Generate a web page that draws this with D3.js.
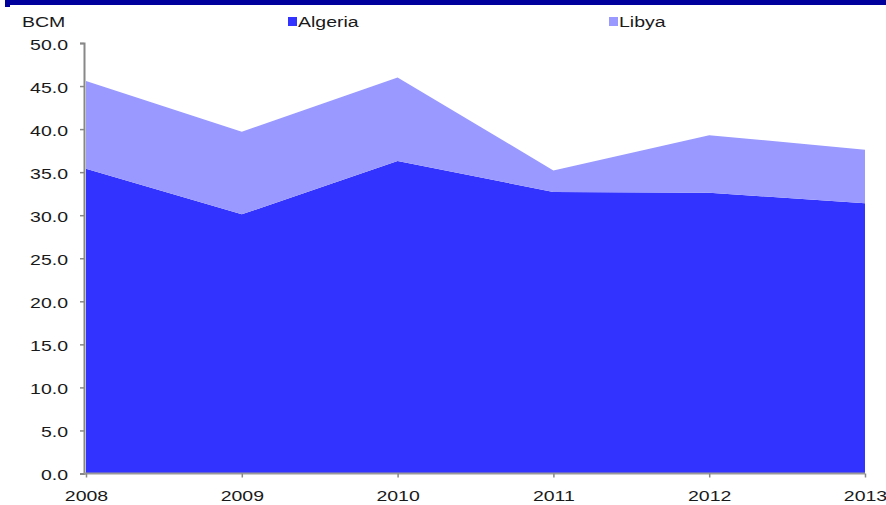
<!DOCTYPE html>
<html>
<head>
<meta charset="utf-8">
<script src="https://cdn.jsdelivr.net/npm/d3@7"></script>
<style>
  html, body { margin: 0; padding: 0; background: #ffffff; }
  svg { display: block; }
  text { font-family: "Liberation Sans", Arial, sans-serif; fill: #1a1a1a; }
</style>
</head>
<body>
<svg id="chart" width="886" height="505"></svg>
<script>
// Gas exports, billion cubic metres
const years = ["2008", "2009", "2010", "2011", "2012", "2013"];
const algeria = [35.4, 30.1, 36.3, 32.7, 32.6, 31.4];
const libya = [10.2, 9.6, 9.7, 2.5, 6.7, 6.2];
const seriesNames = ["Algeria", "Libya"];
const seriesColors = ["#3333ff", "#9999ff"];
const yTicks = [0, 5, 10, 15, 20, 25, 30, 35, 40, 45, 50];

const svg = d3.select("#chart");
const W = 886, H = 505;
const plot = { left: 86, right: 865, top: 43, bottom: 473.5 };
const stretch = 1.3; // wide lettering

// header band
svg.append("rect").attr("x", 5).attr("y", 0).attr("width", W - 5).attr("height", 5).attr("fill", "#00009c");
svg.append("rect").attr("x", 5).attr("y", 5).attr("width", 5).attr("height", 2).attr("fill", "#00009c");

const rows = years.map((y, i) => ({ year: y, Algeria: algeria[i], Libya: libya[i] }));
const stacked = d3.stack().keys(seriesNames)(rows);

const x = d3.scalePoint().domain(years).range([plot.left, plot.right]);
const y = d3.scaleLinear().domain([0, 50]).range([plot.bottom, plot.top]);

const area = d3.area()
  .x(d => x(d.data.year))
  .y0(d => y(d[0]))
  .y1(d => y(d[1]));

svg.append("g").selectAll("path")
  .data(stacked)
  .join("path")
  .attr("d", area)
  .attr("fill", (d, i) => seriesColors[i]);

// y axis
const yAxis = svg.append("g")
  .attr("transform", `translate(84,0)`)
  .call(d3.axisLeft(y).tickValues(yTicks).tickFormat(d3.format(".1f")).tickSize(4).tickPadding(0));
yAxis.select(".domain").attr("stroke", "#888888").attr("stroke-width", 2);
yAxis.selectAll(".tick line").attr("stroke", "#888888").attr("stroke-width", 1.5);
yAxis.selectAll(".tick text")
  .attr("x", null).attr("dy", null)
  .attr("font-size", 15)
  .attr("text-anchor", "end")
  .attr("dominant-baseline", "central")
  .attr("transform", `translate(-16,1) scale(${stretch},1)`);

// x axis
const xAxis = svg.append("g")
  .attr("transform", `translate(0,${plot.bottom})`)
  .call(d3.axisBottom(x).tickSize(4).tickPadding(0));
xAxis.select(".domain").attr("stroke", "#999999").attr("stroke-width", 2).attr("d", `M84,0H${plot.right}`);
xAxis.selectAll(".tick line").attr("stroke", "#888888").attr("stroke-width", 1.5);
xAxis.selectAll(".tick text")
  .attr("y", null).attr("dy", null)
  .attr("font-size", 15)
  .attr("text-anchor", "middle")
  .attr("transform", `translate(0,27) scale(${stretch},1)`);

// unit label
svg.append("text")
  .attr("font-size", 15)
  .attr("transform", `translate(22,27) scale(${stretch},1)`)
  .text("BCM");

// legend
const legendX = [288, 609];
const legend = svg.append("g").selectAll("g")
  .data(seriesNames)
  .join("g")
  .attr("transform", (d, i) => `translate(${legendX[i]},0)`);
legend.append("rect")
  .attr("x", 0).attr("y", 17).attr("width", 9).attr("height", 9)
  .attr("fill", (d, i) => seriesColors[i]);
legend.append("text")
  .attr("font-size", 15)
  .attr("transform", `translate(10,27) scale(${stretch},1)`)
  .text(d => d);
</script>
</body>
</html>
